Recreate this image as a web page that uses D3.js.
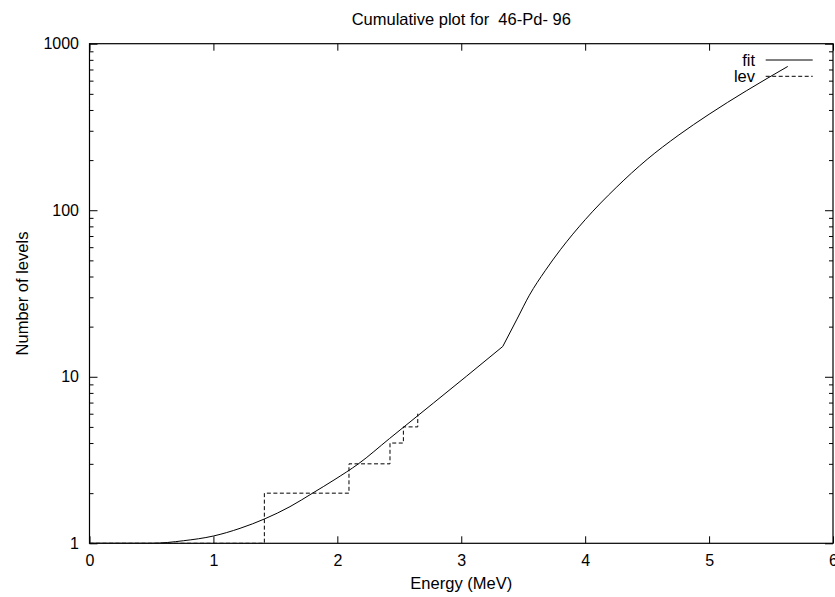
<!DOCTYPE html>
<html>
<head>
<meta charset="utf-8">
<script src="https://cdn.jsdelivr.net/npm/d3@7"></script>
<style>
  html, body { margin: 0; padding: 0; background: #fff; }
  svg { display: block; font-family: "Liberation Sans", Arial, Helvetica, sans-serif; }
</style>
</head>
<body>
<svg id="chart" width="835" height="597"></svg>
<script>
// ---- Data ----
// Fit curve: the curve has a sharp corner at fitKinkEnergy.
const fitEnergy = [0.0, 0.5, 0.757, 1.0, 1.215, 1.417, 1.618, 1.80, 1.981, 2.17, 2.42, 2.775, 3.044, 3.335,
                   3.45, 3.55, 3.677, 3.8, 4.0, 4.25, 4.5, 4.75, 5.0, 5.3, 5.635];
const fitCount  = [1.0, 1.0, 1.036, 1.106, 1.23, 1.405, 1.66, 2.0, 2.42, 3.0, 4.25, 6.95, 10.1, 15.2,
                   22.2, 30.9, 43.3, 57.9, 87.7, 136.8, 202, 281, 377, 521, 730];
const fitKinkEnergy = 3.335;

// Cumulative level count (step plot)
const levEnergy = [0.0, 1.411, 2.094, 2.425, 2.533, 2.649];
const levCount  = [1, 2, 3, 4, 5, 6];

const xTickValues = [0, 1, 2, 3, 4, 5, 6];
const yMajorTicks = [1, 10, 100, 1000];
const yMinorTicks = [2,3,4,5,6,7,8,9,20,30,40,50,60,70,80,90,200,300,400,500,600,700,800,900];

const titleText = "Cumulative plot for  46-Pd- 96";
const xLabelText = "Energy (MeV)";
const yLabelText = "Number of levels";
const seriesNames = ["fit", "lev"];

// ---- Layout ----
const pLeft = 89.5, pRight = 833, pTop = 43.7, pBottom = 543.3;
const svg = d3.select("#chart");

const x = d3.scaleLinear().domain([0, 6]).range([pLeft, pRight]);
const y = d3.scaleLog().domain([1, 1000]).range([pBottom, pTop]);

const fitData = fitEnergy.map((e, i) => ({e, n: fitCount[i]}));
const fitLow  = fitData.filter(d => d.e <= fitKinkEnergy);
const fitHigh = fitData.filter(d => d.e >= fitKinkEnergy);
const levData = levEnergy.map((e, i) => ({e, n: levCount[i]}));

// Curves (clipped to plot)
svg.append("clipPath").attr("id", "clip")
  .append("rect").attr("x", pLeft).attr("y", pTop).attr("width", pRight - pLeft).attr("height", pBottom - pTop);

const g = svg.append("g").attr("clip-path", "url(#clip)");

g.append("path")
  .datum(levData)
  .attr("fill", "none")
  .attr("stroke", "#000")
  .attr("stroke-width", 1)
  .attr("stroke-dasharray", "4,2.5")
  .attr("d", d3.line().x(d => x(d.e)).y(d => y(d.n)).curve(d3.curveStepAfter));

const fitLine = d3.line().x(d => x(d.e)).y(d => y(d.n)).curve(d3.curveMonotoneX);
[fitLow, fitHigh].forEach(part => {
  g.append("path")
    .datum(part)
    .attr("fill", "none")
    .attr("stroke", "#000")
    .attr("stroke-width", 1)
    .attr("d", fitLine);
});

// Axes
const fontTick = "16px";
function styleAxis(sel) {
  sel.select(".domain").remove();
  sel.selectAll(".tick line").attr("stroke", "#000").attr("stroke-width", 1);
  sel.selectAll(".tick text").attr("fill", "#000").style("font-size", fontTick).style("font-family", "Liberation Sans, Arial, sans-serif");
}

svg.append("g").attr("transform", `translate(0,${pBottom})`)
  .call(d3.axisBottom(x).tickValues(xTickValues).tickFormat(d3.format("d")).tickSize(-7).tickPadding(11.5))
  .call(styleAxis);
svg.append("g").attr("transform", `translate(0,${pTop})`)
  .call(d3.axisTop(x).tickValues(xTickValues).tickFormat("").tickSize(-7))
  .call(styleAxis);

svg.append("g").attr("transform", `translate(${pLeft},0)`)
  .call(d3.axisLeft(y).tickValues(yMajorTicks).tickFormat(d3.format("d")).tickSize(-8).tickPadding(10.5))
  .call(styleAxis);
svg.append("g").attr("transform", `translate(${pLeft},0)`)
  .call(d3.axisLeft(y).tickValues(yMinorTicks).tickFormat("").tickSize(-4))
  .call(styleAxis);
svg.append("g").attr("transform", `translate(${pRight},0)`)
  .call(d3.axisRight(y).tickValues(yMajorTicks).tickFormat("").tickSize(-8))
  .call(styleAxis);
svg.append("g").attr("transform", `translate(${pRight},0)`)
  .call(d3.axisRight(y).tickValues(yMinorTicks).tickFormat("").tickSize(-4))
  .call(styleAxis);

// Frame
svg.append("rect")
  .attr("x", pLeft).attr("y", pTop).attr("width", pRight - pLeft).attr("height", pBottom - pTop)
  .attr("fill", "none").attr("stroke", "#000").attr("stroke-width", 1.2);

// Titles
const cx = (pLeft + pRight) / 2, cy = (pTop + pBottom) / 2;
svg.append("text").attr("x", cx).attr("y", 25).attr("text-anchor", "middle")
  .style("font-size", "16.5px").attr("fill", "#000").style("white-space", "pre").text(titleText);
svg.append("text").attr("x", cx).attr("y", 589).attr("text-anchor", "middle")
  .style("font-size", "16.5px").attr("fill", "#000").text(xLabelText);
svg.append("text").attr("transform", `translate(28,${cy}) rotate(-90)`).attr("text-anchor", "middle")
  .style("font-size", "16.5px").attr("fill", "#000").text(yLabelText);

// Legend
const legendRows = [
  {name: seriesNames[0], y: 60, dash: null},
  {name: seriesNames[1], y: 76.3, dash: "4,2.5"}
];
legendRows.forEach(l => {
  svg.append("text").attr("x", 755).attr("y", l.y).attr("dy", "0.35em").attr("text-anchor", "end")
    .style("font-size", "16.5px").attr("fill", "#000").text(l.name);
  svg.append("line").attr("x1", 765.7).attr("x2", 812.7).attr("y1", l.y).attr("y2", l.y)
    .attr("stroke", "#000").attr("stroke-width", 1).attr("stroke-dasharray", l.dash);
});
</script>
</body>
</html>
